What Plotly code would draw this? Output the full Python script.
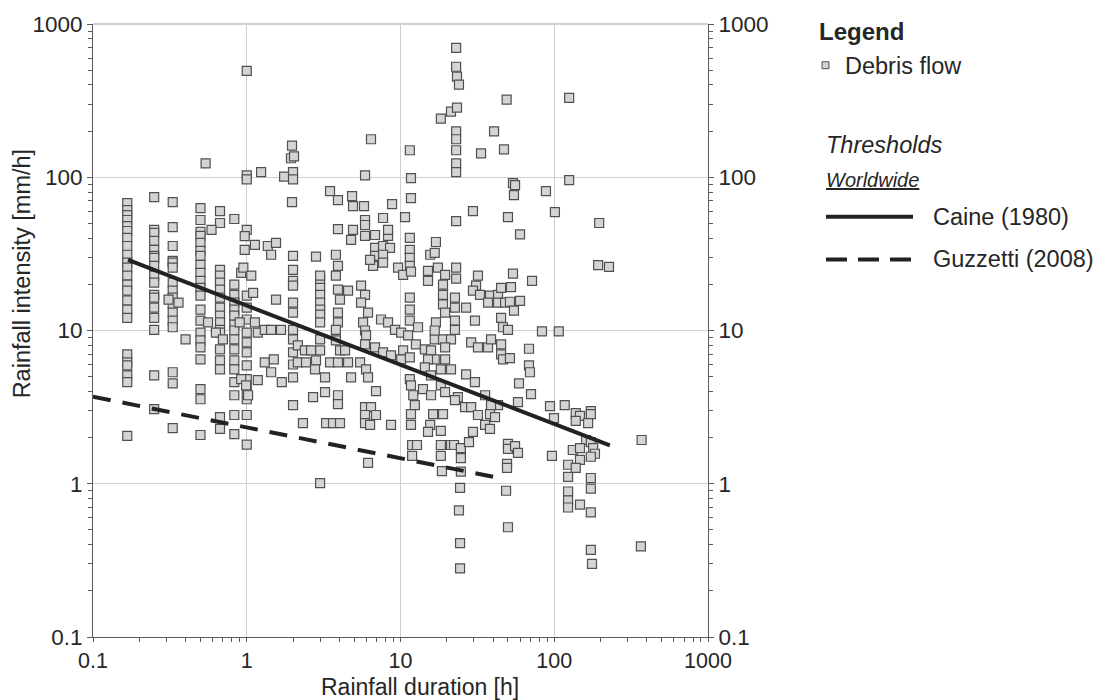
import plotly.graph_objects as go

# ---------------------------------------------------------------
# Debris-flow triggering rainfall: duration (h) vs intensity (mm/h)
# ---------------------------------------------------------------

# Events recorded at fixed rainfall durations (h) -> intensities (mm/h)
dur_010min = 0.167
int_010min = [67.8, 61.1, 56.6, 52.6, 48.0, 44.6, 40.2, 35.6, 31.2, 27.7, 25.7, 22.8,
              19.9, 18.2, 15.7, 13.7, 12.1, 6.98, 6.2, 5.93, 5.1, 4.6, 2.05]
dur_015min = 0.25
int_015min = [74.1, 45.3, 43.3, 38.4, 33.6, 30.7, 29.8, 26.4, 22.8, 20.5, 17.1, 16.4,
              14.1, 12.1, 10.1, 5.1, 3.07]
dur_020min = 0.33
int_020min = [68.8, 47.3, 35.6, 28.5, 27.7, 25.7, 20.5, 18.2, 16.4, 14.8, 13.1, 11.6,
              10.5, 5.34, 4.52, 2.31]
dur_030min = 0.5
int_030min = [62.9, 52.6, 44.0, 41.4, 37.3, 33.1, 30.7, 26.8, 23.8, 21.1, 19.0, 16.9,
              13.7, 11.6, 9.70, 8.61, 7.75, 6.48, 4.14, 3.56, 2.08]
dur_040min = 0.67
int_040min = [60.1, 50.3, 24.9, 22.8, 20.5, 18.5, 16.4, 14.1, 12.5, 11.3, 10.1, 9.7,
              7.53, 6.39, 5.58, 2.72, 2.28]
dur_050min = 0.83
int_050min = [53.4, 19.9, 17.1, 15.2, 13.7, 12.5, 10.9, 10.0, 8.74, 7.53, 6.39, 5.58,
              4.60, 3.78, 2.81, 2.11]
dur_1h = 1.0
int_1h = [495, 103, 97, 45.3, 16.9, 14.1, 11.8, 9.7, 8.36, 7.2, 5.93, 4.81, 4.14,
          3.56, 2.81, 1.8]
dur_2h = 2.0
int_2h = [30.7, 24.9, 21.1, 19.6, 15.2, 13.1, 10.1, 8.74, 7.2, 6.0, 4.95, 3.26]
dur_3h = 3.0
int_3h = [21.4, 19.0, 17.1, 15.2, 13.7, 12.7, 11.3, 8.74, 7.41, 22.8, 1.01]

# Remaining events, grouped by duration band
dur_a = [0.31, 0.36, 0.40, 0.54, 0.56, 0.59, 0.63, 0.70, 0.90, 0.92, 0.95, 0.97,
         0.97, 0.92, 0.99, 1.02]
int_a = [15.9, 15.2, 8.74, 123, 11.3, 45.3, 9.7, 8.74, 11.3, 23.8, 25.7, 33.6,
         41.3, 4.81, 4.39, 3.78]

dur_b = [1.18, 1.10, 1.13, 1.18, 1.31, 1.44, 1.67, 1.13, 1.37, 1.55, 1.44, 1.07,
         1.24, 1.75, 1.31, 1.50, 1.44, 1.69, 1.55, 2.0, 1.97, 1.94, 2.03, 2.0,
         1.97, 2.15, 2.39, 2.62, 2.15, 2.43, 2.82, 2.78, 2.70, 2.32, 2.82]
int_b = [4.74, 17.6, 11.3, 9.7, 10.1, 10.1, 10.1, 36.2, 35.6, 37.3, 31.2, 22.8,
         108, 101, 6.2, 6.48, 5.34, 4.6, 15.9, 108, 161, 133, 137, 97,
         68.8, 7.99, 7.41, 7.41, 6.2, 6.2, 6.39, 5.58, 3.67, 2.49, 30.3]

dur_c = [3.80, 3.92, 3.80, 3.92, 4.56, 4.04, 3.92, 3.92, 3.80, 3.80, 4.04, 4.36,
         3.48, 3.92, 4.56, 3.23, 4.77, 3.23, 3.92, 3.92, 3.28, 3.64, 4.04, 3.48,
         3.92, 4.84, 4.91, 3.92, 4.91, 4.77]
int_c = [31.2, 26.4, 22.8, 18.5, 18.2, 15.9, 13.1, 11.3, 10.1, 8.61, 7.41, 7.41,
         6.2, 6.2, 6.2, 4.95, 4.95, 3.96, 3.78, 3.31, 2.49, 2.49, 2.49, 81.1,
         70.9, 75.3, 64.8, 45.9, 45.3, 39.0]

dur_d = [5.79, 5.88, 5.88, 5.88, 6.43, 5.88, 6.83, 6.83, 7.70, 8.55, 6.83, 7.70,
         6.63, 7.70, 6.34, 8.30, 7.70, 8.81, 8.30, 9.64, 5.54, 5.88, 5.54, 6.15,
         5.71, 5.88, 7.47, 8.30, 9.21, 5.46, 5.97, 6.15, 5.97, 5.88, 6.83, 7.70,
         8.68, 6.93, 5.88, 6.43, 5.88, 6.93, 5.88, 6.34, 8.68, 6.15]
int_d = [64.8, 52.6, 48.8, 103, 177, 41.4, 42.0, 34.6, 35.6, 34.6, 30.7, 31.2,
         26.4, 27.7, 28.9, 41.4, 54.2, 66.8, 45.3, 25.7, 19.6, 17.1, 15.2, 13.1,
         11.3, 10.0, 11.8, 11.3, 10.1, 6.2, 5.58, 4.95, 9.28, 8.11, 7.75, 7.20,
         6.88, 4.02, 3.16, 3.16, 2.81, 2.81, 2.49, 2.42, 2.42, 1.37]

dur_e = [10.1, 11.2, 11.5, 11.5, 11.5, 13.0, 10.4, 10.1, 11.5, 12.6, 14.4, 15.8,
         16.7, 18.9, 21.3, 19.5, 16.7, 19.5, 21.3, 18.3, 15.1, 14.4]
int_e = [9.70, 9.28, 16.4, 13.7, 11.6, 10.5, 7.41, 6.48, 6.68, 8.11, 7.53, 7.41,
         8.74, 8.74, 8.74, 7.75, 6.48, 6.48, 5.58, 5.58, 6.48, 5.75]

dur_f = [11.5, 17.0, 11.5, 11.5, 15.6, 16.7, 11.5, 10.4, 11.7, 15.1, 17.5, 19.5,
         23.0, 23.0, 15.1, 18.9, 18.9, 18.9, 19.5, 22.6, 22.6, 22.6, 22.6, 17.0,
         16.7, 26.7]
int_f = [40.2, 37.8, 33.6, 29.8, 31.2, 32.1, 26.4, 23.1, 24.2, 24.5, 25.7, 23.1,
         25.7, 21.8, 21.1, 19.9, 17.1, 14.8, 13.1, 16.4, 14.1, 11.6, 10.1, 11.3,
         10.0, 14.1]

dur_g = [11.5, 11.7, 14.0, 15.8, 18.3, 19.5, 23.6, 26.7, 12.1, 12.4, 11.7, 15.8,
         16.3, 18.9, 22.6, 26.3, 28.8, 11.7, 15.6, 18.3, 15.1, 29.6, 11.9, 12.8,
         11.9, 18.3, 18.3, 18.6, 21.3, 22.3, 24.7, 24.7, 24.7, 27.9, 24.4, 24.0,
         24.4, 24.4]
int_g = [4.81, 4.39, 4.14, 5.10, 4.39, 3.96, 3.67, 5.18, 3.78, 3.26, 2.85, 3.78,
         2.85, 2.85, 3.51, 3.16, 3.16, 2.42, 2.42, 2.21, 2.18, 2.18, 1.79, 1.79,
         1.52, 1.79, 1.52, 1.21, 1.79, 1.79, 1.71, 1.47, 1.20, 1.87, 0.94, 0.67,
         0.41, 0.28]

dur_h = [23.0, 23.0, 23.3, 24.0, 18.3, 21.3, 23.3, 23.0, 23.0, 23.0, 23.0, 23.0,
         11.5, 11.7, 11.7, 10.7, 23.0, 29.6]
int_h = [698, 526, 453, 402, 241, 268, 285, 199, 177, 150, 123, 108,
         150, 98.6, 73.1, 55.0, 51.8, 60.1]

dur_i = [33.4, 40.6, 47.1, 49.0, 31.9, 31.0, 29.6, 32.9, 38.2, 43.1, 45.1, 37.1,
         43.1, 47.9, 30.5, 45.1, 46.4, 28.8, 31.9, 37.1, 38.8, 45.1, 45.1, 46.4,
         30.5, 35.5, 43.1, 31.9, 38.8, 38.2, 41.2, 35.5, 38.2]
int_i = [143, 199, 152, 321, 22.8, 19.6, 18.2, 17.1, 16.9, 17.1, 19.0, 15.2,
         15.2, 15.2, 11.6, 12.1, 10.5, 8.36, 7.75, 7.75, 8.74, 8.11, 6.98, 6.48,
         4.60, 3.78, 3.26, 2.81, 3.26, 2.85, 2.72, 2.42, 2.28]

dur_j = [50.0, 50.0, 55.6, 58.1, 49.3, 49.3, 48.6, 50.0, 125, 125, 53.9, 55.6,
         54.7, 88.3, 50.0, 101, 196, 59.9, 193, 227, 53.9, 71.7, 52.3, 51.5,
         59.9, 54.7, 50.0, 83.2, 107, 68.5, 51.5, 68.5, 69.5, 59.0, 70.6, 58.1,
         93.8, 117, 99.6, 138, 147, 138, 173, 173, 166, 370, 161]
int_j = [1.82, 1.69, 1.76, 1.59, 1.35, 1.27, 0.90, 0.52, 330, 95.7, 91.5, 88.8,
         76.4, 81.1, 55.0, 59.3, 50.3, 42.4, 26.7, 26.0, 23.5, 21.1, 19.2, 15.4,
         15.6, 13.5, 10.1, 9.86, 9.86, 7.6, 6.6, 5.93, 5.34, 4.52, 3.84, 3.41,
         3.21, 3.26, 2.68, 2.89, 2.77, 2.57, 2.98, 2.85, 2.49, 1.93, 1.93]

dur_k = [96.6, 123, 123, 123, 123, 123, 132, 147, 147, 138, 147, 173, 179, 184,
         173, 173, 173, 173, 173, 176, 366]
int_k = [1.52, 1.33, 1.11, 0.89, 0.78, 0.70, 1.66, 1.71, 1.43, 1.27, 0.73, 1.87,
         1.71, 1.57, 1.50, 1.09, 0.93, 0.65, 0.37, 0.30, 0.39]

# Rainfall thresholds (end points of the power-law lines)
caine_dur = [0.169, 230]
caine_int = [28.9, 1.78]
guzzetti_dur = [0.1, 46]
guzzetti_int = [3.70, 1.08]

# Axis ticks
decade_vals = [0.1, 1, 10, 100, 1000]
decade_text = ["0.1", "1", "10", "100", "1000"]
minor_vals = [m * d for d in [0.1, 1, 10, 100] for m in range(2, 10)]

# ---------------------------------------------------------------
columns = [
    (dur_010min, int_010min), (dur_015min, int_015min), (dur_020min, int_020min),
    (dur_030min, int_030min), (dur_040min, int_040min), (dur_050min, int_050min),
    (dur_1h, int_1h), (dur_2h, int_2h), (dur_3h, int_3h),
]
groups = [
    (dur_a, int_a), (dur_b, int_b), (dur_c, int_c), (dur_d, int_d), (dur_e, int_e),
    (dur_f, int_f), (dur_g, int_g), (dur_h, int_h), (dur_i, int_i), (dur_j, int_j),
    (dur_k, int_k),
]
event_dur, event_int = [], []
for d, vals in columns:
    event_dur += [d] * len(vals)
    event_int += list(vals)
for ds, vs in groups:
    n = min(len(ds), len(vs))
    event_dur += ds[:n]
    event_int += vs[:n]

W, H = 1107, 700
ML, MR, MT, MB = 93, 399, 20, 63
PW, PH = W - ML - MR, H - MT - MB


def px(x):
    return (x - ML) / PW


def py(y):
    return (H - MB - y) / PH


FONT = "Liberation Sans, Arial, sans-serif"
TXT = "#262626"
AX = "#5a5a5a"
GRID = "#cfcfcf"
LINE = "#222222"

fig = go.Figure()

fig.add_trace(go.Scatter(
    x=event_dur, y=event_int, mode="markers", name="Debris flow",
    marker=dict(symbol="square", size=9, color="#d4d4d4",
                line=dict(color="#505050", width=1.2)),
    showlegend=False,
))
fig.add_trace(go.Scatter(
    x=caine_dur, y=caine_int, mode="lines", name="Caine (1980)", yaxis="y2",
    line=dict(color=LINE, width=4), showlegend=False,
))
fig.add_trace(go.Scatter(
    x=guzzetti_dur, y=guzzetti_int, mode="lines", name="Guzzetti (2008)", yaxis="y2",
    line=dict(color=LINE, width=4, dash="18px,12px"), showlegend=False,
))

axis_common = dict(
    type="log", range=[-1, 3],
    tickmode="array", tickvals=decade_vals, ticktext=decade_text,
    ticks="outside", ticklen=5, tickwidth=1, tickcolor=AX,
    showline=True, linecolor=AX, linewidth=1,
    tickfont=dict(family=FONT, size=22.5, color=TXT),
    zeroline=False,
    minor=dict(tickmode="array", tickvals=minor_vals, ticks="outside",
               ticklen=4, tickwidth=1, tickcolor=AX, showgrid=False),
)

x_axis = dict(axis_common)
x_axis["tickfont"] = dict(family=FONT, size=21.5, color=TXT)
x_axis["ticklen"] = 4
x_axis["minor"] = dict(tickmode="array", tickvals=minor_vals, ticks="outside",
                       ticklen=4, tickwidth=1, tickcolor=AX, showgrid=False)

fig.update_layout(
    width=W, height=H, autosize=False,
    margin=dict(l=ML, r=MR, t=MT, b=MB, pad=0),
    paper_bgcolor="white", plot_bgcolor="white",
    showlegend=False,
    xaxis=dict(**x_axis, showgrid=True, gridcolor=GRID, gridwidth=1,
               domain=[0, 1]),
    yaxis=dict(**axis_common, showgrid=True, gridcolor=GRID, gridwidth=1),
    yaxis2=dict(**axis_common, overlaying="y", side="right", anchor="x",
                showgrid=False),
)

# top frame line (light, like the grid)
fig.add_shape(type="line", xref="paper", yref="paper", x0=0, x1=1, y0=1, y1=1,
              line=dict(color=GRID, width=2))

# axis titles
fig.add_annotation(text="Rainfall duration [h]", xref="paper", yref="paper",
                   x=px(420), y=py(687), xanchor="center", yanchor="middle",
                   showarrow=False, font=dict(family=FONT, size=23, color=TXT))
fig.add_annotation(text="Rainfall intensity [mm/h]", xref="paper", yref="paper",
                   x=px(22), y=py(272), xanchor="center", yanchor="middle",
                   textangle=-90, showarrow=False,
                   font=dict(family=FONT, size=23.5, color=TXT))

# legend block
LEG = 23.5
fig.add_annotation(text="<b>Legend</b>", xref="paper", yref="paper",
                   x=px(817), y=py(28), xanchor="left", yanchor="middle",
                   showarrow=False, font=dict(family=FONT, size=24, color=TXT))
fig.add_shape(type="rect", xref="paper", yref="paper",
              x0=px(822), x1=px(829), y0=py(58), y1=py(65),
              fillcolor="#d4d4d4", line=dict(color="#505050", width=1))
fig.add_annotation(text="Debris flow", xref="paper", yref="paper",
                   x=px(843), y=py(62), xanchor="left", yanchor="middle",
                   showarrow=False, font=dict(family=FONT, size=LEG, color=TXT))
fig.add_annotation(text="<i>Thresholds</i>", xref="paper", yref="paper",
                   x=px(824), y=py(142), xanchor="left", yanchor="middle",
                   showarrow=False, font=dict(family=FONT, size=LEG, color=TXT))
fig.add_annotation(text="<i><u>Worldwide</u></i>", xref="paper", yref="paper",
                   x=px(824), y=py(177), xanchor="left", yanchor="middle",
                   showarrow=False, font=dict(family=FONT, size=20, color=TXT))
fig.add_shape(type="line", xref="paper", yref="paper",
              x0=px(826), x1=px(913), y0=py(214), y1=py(214),
              line=dict(color=LINE, width=4))
fig.add_annotation(text="Caine (1980)", xref="paper", yref="paper",
                   x=px(931), y=py(214), xanchor="left", yanchor="middle",
                   showarrow=False, font=dict(family=FONT, size=LEG, color=TXT))
fig.add_shape(type="line", xref="paper", yref="paper",
              x0=px(826), x1=px(913), y0=py(257), y1=py(257),
              line=dict(color=LINE, width=4, dash="21px,11px"))
fig.add_annotation(text="Guzzetti (2008)", xref="paper", yref="paper",
                   x=px(931), y=py(257), xanchor="left", yanchor="middle",
                   showarrow=False, font=dict(family=FONT, size=LEG, color=TXT))

fig.write_html("out.html")
